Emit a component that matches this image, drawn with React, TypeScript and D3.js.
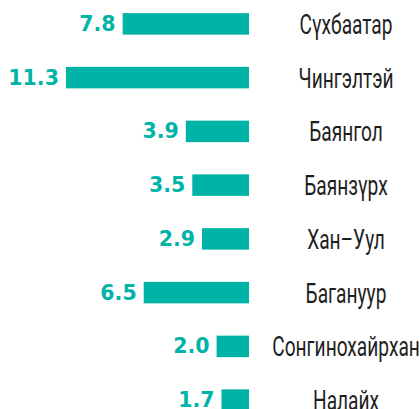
import React, { useEffect, useRef } from "react";
import * as d3 from "d3";

const districts = [
  "Сүхбаатар",
  "Чингэлтэй",
  "Баянгол",
  "Баянзүрх",
  "Хан–Уул",
  "Багануур",
  "Сонгинохайрхан",
  "Налайх"
];
const values = [7.8, 11.3, 3.9, 3.5, 2.9, 6.5, 2.0, 1.7];

const width = 420;
const height = 409;
const teal = "#00b3a7";

export default function App() {
  const ref = useRef<SVGSVGElement>(null);

  useEffect(() => {
    document.body.style.margin = "0";
    const svg = d3.select(ref.current);
    svg.selectAll("*").remove();

    const x = d3.scaleLinear().domain([0, 12]).range([249, 249 - 194.4]);
    const y = d3
      .scaleBand()
      .domain(districts)
      .range([-3, 427])
      .paddingInner(0.6)
      .paddingOuter(0.3);

    const rows = svg
      .selectAll("g.row")
      .data(districts)
      .enter()
      .append("g")
      .attr("class", "row");

    rows
      .append("rect")
      .attr("x", (d, i) => x(values[i]))
      .attr("y", d => y(d)!)
      .attr("width", (d, i) => x(0) - x(values[i]))
      .attr("height", y.bandwidth())
      .attr("fill", teal);

    rows
      .append("text")
      .attr("x", (d, i) => x(values[i]) - 7)
      .attr("y", d => y(d)! + y.bandwidth() / 2 + 7)
      .attr("text-anchor", "end")
      .attr("font-family", "'DejaVu Sans', sans-serif")
      .attr("font-weight", "bold")
      .attr("font-size", 20.5)
      .attr("fill", teal)
      .text((d, i) => values[i].toFixed(1));

    // condensed district names: squeeze a regular font horizontally
    const labels = rows
      .append("g")
      .attr("transform", d => `translate(346,${y(d)! + y.bandwidth() / 2 + 10})`)
      .append("text")
      .attr("text-anchor", "middle")
      .attr("font-family", "Roboto, sans-serif")
      .attr("font-weight", 400)
      .attr("font-size", 28)
      .attr("fill", "#1e1e1e")
      .text(d => d);

    const first = labels.node() as SVGTextElement;
    const k = first ? 93 / first.getComputedTextLength() : 0.7;
    labels.attr("transform", `scale(${k},1)`);
  }, []);

  return (
    <div style={{ position: "absolute", left: 0, top: 0 }}>
      <svg ref={ref} width={width} height={height} />
    </div>
  );
}
